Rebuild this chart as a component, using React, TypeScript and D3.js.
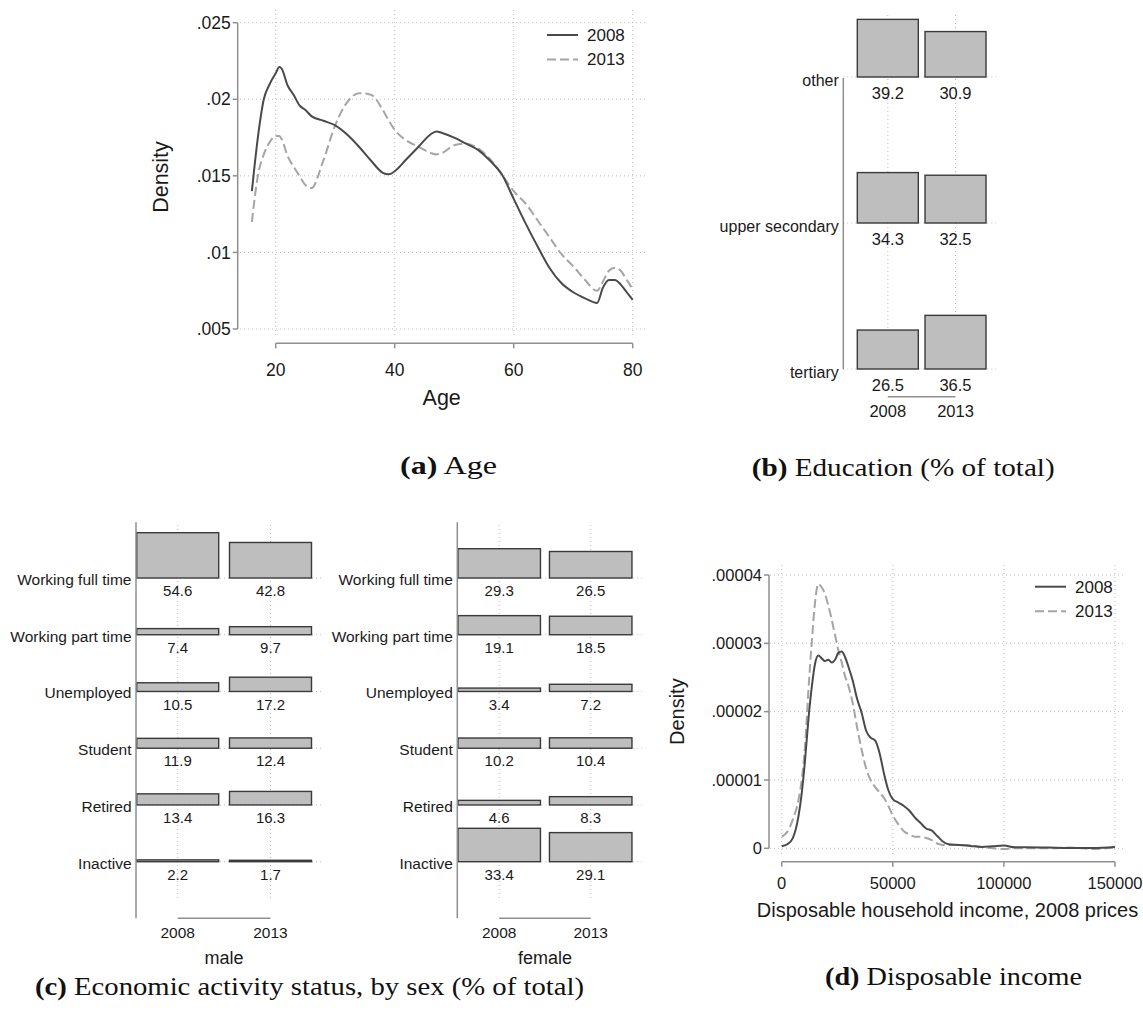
import React from 'react';
import * as d3 from 'd3';

// ---- (a) age density ----
const ageGrid = [16, 17, 18, 19, 20, 20.6, 21, 22, 23, 24, 25, 26, 28, 30, 32, 34, 36, 38, 39, 40, 42, 44, 46, 47, 48, 50, 52, 54, 56, 58, 60, 62, 64, 66, 68, 70, 72, 74, 75, 76, 77, 78, 79, 80];
const ageDensity2008 = [0.0140, 0.0175, 0.0200, 0.0210, 0.0217, 0.0221, 0.0220, 0.0209, 0.0203, 0.0196, 0.0193, 0.0189, 0.0186, 0.0183, 0.0177, 0.0169, 0.0160, 0.0152, 0.0151, 0.0153, 0.0161, 0.0169, 0.0177, 0.0179, 0.0178, 0.0175, 0.0171, 0.0167, 0.0160, 0.0151, 0.0135, 0.0119, 0.0104, 0.0090, 0.0080, 0.0074, 0.0070, 0.0067, 0.0077, 0.0082, 0.0082, 0.0079, 0.0074, 0.0069];
const ageDensity2013 = [0.0120, 0.0150, 0.0164, 0.0172, 0.0176, 0.0176, 0.0174, 0.0163, 0.0156, 0.0150, 0.0144, 0.0142, 0.0160, 0.0183, 0.0198, 0.0204, 0.0203, 0.0193, 0.0186, 0.0180, 0.0173, 0.0169, 0.0165, 0.0164, 0.0165, 0.0170, 0.0171, 0.0168, 0.0161, 0.0151, 0.0140, 0.0132, 0.0121, 0.0110, 0.0099, 0.0091, 0.0082, 0.0075, 0.0081, 0.0088, 0.0090, 0.0088, 0.0082, 0.0076];
const ageXTicks = [20, 40, 60, 80];
const ageXTickLabels = ['20', '40', '60', '80'];
const ageYTicks = [0.005, 0.01, 0.015, 0.02, 0.025];
const ageYTickLabels = ['.005', '.01', '.015', '.02', '.025'];

// ---- (d) income density ----
const incomeGrid = [0, 2500, 5000, 7500, 9000, 10500, 12000, 13500, 15000, 16500, 18000, 19500, 21000, 22500, 24000, 25500, 27000, 28500, 30000, 32000, 34000, 36000, 38000, 40000, 42000, 44000, 46000, 48000, 50000, 52500, 55000, 57500, 60000, 62500, 65000, 67500, 70000, 72500, 75000, 80000, 85000, 90000, 95000, 100000, 105000, 110000, 120000, 130000, 140000, 150000];
const incomeDensity2008 = [0.03e-5, 0.06e-5, 0.15e-5, 0.46e-5, 0.80e-5, 1.29e-5, 1.88e-5, 2.35e-5, 2.70e-5, 2.82e-5, 2.78e-5, 2.74e-5, 2.76e-5, 2.72e-5, 2.76e-5, 2.86e-5, 2.88e-5, 2.80e-5, 2.66e-5, 2.45e-5, 2.18e-5, 1.98e-5, 1.72e-5, 1.62e-5, 1.58e-5, 1.40e-5, 1.10e-5, 0.85e-5, 0.72e-5, 0.67e-5, 0.62e-5, 0.55e-5, 0.45e-5, 0.37e-5, 0.29e-5, 0.26e-5, 0.18e-5, 0.10e-5, 0.06e-5, 0.05e-5, 0.035e-5, 0.02e-5, 0.03e-5, 0.04e-5, 0.015e-5, 0.015e-5, 0.01e-5, 0.005e-5, 0.005e-5, 0.02e-5];
const incomeDensity2013 = [0.17e-5, 0.24e-5, 0.42e-5, 0.70e-5, 1.0e-5, 1.5e-5, 2.3e-5, 3.0e-5, 3.6e-5, 3.87e-5, 3.82e-5, 3.72e-5, 3.55e-5, 3.35e-5, 3.12e-5, 2.9e-5, 2.72e-5, 2.52e-5, 2.38e-5, 2.12e-5, 1.76e-5, 1.44e-5, 1.17e-5, 1.0e-5, 0.90e-5, 0.82e-5, 0.74e-5, 0.62e-5, 0.48e-5, 0.35e-5, 0.25e-5, 0.2e-5, 0.17e-5, 0.17e-5, 0.15e-5, 0.12e-5, 0.07e-5, 0.05e-5, 0.05e-5, 0.05e-5, 0.04e-5, 0.02e-5, 0, -0.01e-5, 0, 0, 0, 0.01e-5, -0.01e-5, 0.015e-5];
const incomeXTicks = [0, 50000, 100000, 150000];
const incomeXTickLabels = ['0', '50000', '100000', '150000'];
const incomeYTicks = [0, 0.00001, 0.00002, 0.00003, 0.00004];
const incomeYTickLabels = ['0', '.00001', '.00002', '.00003', '.00004'];

// ---- (b) education, (c) activity ----
const years = ['2008', '2013'];
const eduCategories = ['other', 'upper secondary', 'tertiary'];
const edu2008 = [39.2, 34.3, 26.5];
const edu2013 = [30.9, 32.5, 36.5];

const activityCategories = ['Working full time', 'Working part time', 'Unemployed', 'Student', 'Retired', 'Inactive'];
const male2008 = [54.6, 7.4, 10.5, 11.9, 13.4, 2.2];
const male2013 = [42.8, 9.7, 17.2, 12.4, 16.3, 1.7];
const female2008 = [29.3, 19.1, 3.4, 10.2, 4.6, 33.4];
const female2013 = [26.5, 18.5, 7.2, 10.4, 8.3, 29.1];

const FONT = "'Liberation Sans', Arial, Helvetica, sans-serif";
const SERIF = "'Liberation Serif', 'Times New Roman', serif";
const INK = '#1a1a1a';
const AXIS = '#8f8f8f';
const GRID = '#bdbdbd';
const C2008 = '#4a4a4a';
const C2013 = '#a5a5a5';

type Lin = d3.ScaleLinear<number, number>;

function DensityPanel(p: {
  grid: number[]; s2008: number[]; s2013: number[]; x: Lin; y: Lin;
  xTicks: number[]; xTickLabels: string[]; yTicks: number[]; yTickLabels: string[];
  xAxisY: number; yAxisX: number; gridLeft: number; gridRight: number; gridTop: number; gridBottom: number;
  xLabelOffset: number; xTitle: string; xTitleX: number; xTitleY: number; yTitleX: number; yTitleY: number;
  legendX: number; legendY: number; tickSize: number; titleSize: number; legendSize: number;
}) {
  const { x, y, grid } = p;
  const line = d3.line<number>().x((_, i) => x(grid[i])).y(d => y(d)).curve(d3.curveMonotoneX);
  const [x0, x1] = [x(p.xTicks[0]), x(p.xTicks[p.xTicks.length - 1])];
  const [y0, y1] = [y(p.yTicks[0]), y(p.yTicks[p.yTicks.length - 1])];
  return (
    <g fontFamily={FONT} fill={INK}>
      {p.yTicks.map(t => (
        <line key={`gy${t}`} x1={p.gridLeft} x2={p.gridRight} y1={y(t)} y2={y(t)} stroke={GRID} strokeDasharray="1,3" />
      ))}
      {p.xTicks.map(t => (
        <line key={`gx${t}`} x1={x(t)} x2={x(t)} y1={p.gridTop} y2={p.gridBottom} stroke={GRID} strokeDasharray="1,3" />
      ))}
      <path d={line(p.s2013) || ''} fill="none" stroke={C2013} strokeWidth={2} strokeDasharray="9,4" />
      <path d={line(p.s2008) || ''} fill="none" stroke={C2008} strokeWidth={2} />

      <line x1={p.yAxisX} x2={p.yAxisX} y1={y0} y2={y1} stroke={AXIS} strokeWidth={1.5} />
      {p.yTicks.map((t, i) => (
        <g key={`yt${t}`}>
          <line x1={p.yAxisX - 5} x2={p.yAxisX} y1={y(t)} y2={y(t)} stroke={AXIS} strokeWidth={1.5} />
          <text x={p.yAxisX - 7} y={y(t)} dy="0.35em" textAnchor="end" fontSize={p.tickSize}>{p.yTickLabels[i]}</text>
        </g>
      ))}
      <line x1={x0} x2={x1} y1={p.xAxisY} y2={p.xAxisY} stroke={AXIS} strokeWidth={1.5} />
      {p.xTicks.map((t, i) => (
        <g key={`xt${t}`}>
          <line x1={x(t)} x2={x(t)} y1={p.xAxisY} y2={p.xAxisY + 5} stroke={AXIS} strokeWidth={1.5} />
          <text x={x(t)} y={p.xAxisY + p.xLabelOffset} dy="0.35em" textAnchor="middle" fontSize={p.tickSize}>{p.xTickLabels[i]}</text>
        </g>
      ))}
      <text x={p.xTitleX} y={p.xTitleY} dy="0.35em" textAnchor="middle" fontSize={p.titleSize}>{p.xTitle}</text>
      <text transform={`translate(${p.yTitleX},${p.yTitleY}) rotate(-90)`} dy="0.35em" textAnchor="middle" fontSize={p.titleSize}>Density</text>

      {years.map((yr, i) => (
        <g key={yr} transform={`translate(${p.legendX},${p.legendY + i * 24.5})`}>
          <line x1={0} x2={31} y1={0} y2={0} stroke={i === 0 ? C2008 : C2013} strokeWidth={2} strokeDasharray={i === 0 ? undefined : '9,4'} />
          <text x={40} y={0} dy="0.35em" fontSize={p.legendSize}>{yr}</text>
        </g>
      ))}
    </g>
  );
}

function TabPanel(p: {
  cats: string[]; v2008: number[]; v2013: number[];
  catY: d3.ScalePoint<string>; yearX: d3.ScalePoint<string>; h: Lin; barW: number;
  axisX: number; axisTop: number; axisBottom: number; labelGap: number; labelDy: number; valueDy: number;
  xAxisY: number; yearLabelY: number; gridTop: number; gridBottom: number; gridRight: number;
  labelSize: number; valueSize: number; yearSize: number; group?: string; groupY?: number;
}) {
  const { catY, yearX, h } = p;
  const vals = [p.v2008, p.v2013];
  return (
    <g fontFamily={FONT} fill={INK}>
      {years.map(yr => (
        <line key={`gv${yr}`} x1={yearX(yr)} x2={yearX(yr)} y1={p.gridTop} y2={p.gridBottom} stroke={GRID} strokeDasharray="1,3" />
      ))}
      {p.cats.map(c => (
        <line key={`gh${c}`} x1={p.axisX} x2={p.gridRight} y1={catY(c)} y2={catY(c)} stroke={GRID} strokeDasharray="1,3" />
      ))}
      {p.cats.map((c, ci) => years.map((yr, yi) => {
        const base = catY(c) as number;
        const v = vals[yi][ci];
        return (
          <g key={`${c}${yr}`}>
            <rect x={(yearX(yr) as number) - p.barW / 2} y={base - h(v)} width={p.barW} height={h(v)}
              fill="#bebebe" stroke="#3a3a3a" strokeWidth={1.4} />
            <text x={yearX(yr)} y={base + p.valueDy} dy="0.35em" textAnchor="middle" fontSize={p.valueSize}>{v.toFixed(1)}</text>
          </g>
        );
      }))}
      <line x1={p.axisX} x2={p.axisX} y1={p.axisTop} y2={p.axisBottom} stroke={AXIS} strokeWidth={1.5} />
      {p.cats.map(c => (
        <text key={`l${c}`} x={p.axisX - p.labelGap} y={(catY(c) as number) + p.labelDy} dy="0.35em" textAnchor="end" fontSize={p.labelSize}>{c}</text>
      ))}
      <line x1={yearX(years[0])} x2={yearX(years[1])} y1={p.xAxisY} y2={p.xAxisY} stroke={AXIS} strokeWidth={1.5} />
      {years.map(yr => (
        <text key={`y${yr}`} x={yearX(yr)} y={p.yearLabelY} dy="0.35em" textAnchor="middle" fontSize={p.yearSize}>{yr}</text>
      ))}
      {p.group && (
        <text x={((yearX(years[0]) as number) + (yearX(years[1]) as number)) / 2} y={p.groupY} dy="0.35em" textAnchor="middle" fontSize={18}>{p.group}</text>
      )}
    </g>
  );
}

function Caption({ x, y, len, tag, text }: { x: number; y: number; len: number; tag: string; text: string }) {
  return (
    <text x={x} y={y} fontFamily={SERIF} fontSize={25} fill="#111" textLength={len} lengthAdjust="spacingAndGlyphs">
      <tspan fontWeight="bold">({tag})</tspan> {text}
    </text>
  );
}

export default function App() {
  const ageX = d3.scaleLinear().domain([20, 80]).range([275.7, 632.7]);
  const ageY = d3.scaleLinear().domain([0.005, 0.025]).range([329, 22.7]);
  const incX = d3.scaleLinear().domain([0, 150000]).range([781.7, 1115]);
  const incY = d3.scaleLinear().domain([0, 0.00004]).range([848.3, 575]);

  const eduY = d3.scalePoint<string>().domain(eduCategories).range([77, 369]);
  const eduX = d3.scalePoint<string>().domain(years).range([887.8, 955.5]);
  const eduH = d3.scaleLinear().domain([0, 10]).range([0, 14.7]);

  const actY = d3.scalePoint<string>().domain(activityCategories).range([578, 861.7]);
  const maleX = d3.scalePoint<string>().domain(years).range([177.7, 270.5]);
  const femaleX = d3.scalePoint<string>().domain(years).range([499.2, 590.7]);
  const maleH = d3.scaleLinear().domain([0, 10]).range([0, 8.3]);
  const femaleH = d3.scaleLinear().domain([0, 10]).range([0, 10]);

  return (
    <svg width={1143} height={1013} style={{ position: 'absolute', left: 0, top: 0, background: '#fff' }}>
      <DensityPanel grid={ageGrid} s2008={ageDensity2008} s2013={ageDensity2013} x={ageX} y={ageY}
        xTicks={ageXTicks} xTickLabels={ageXTickLabels} yTicks={ageYTicks} yTickLabels={ageYTickLabels}
        xAxisY={343.3} yAxisX={237.7} gridLeft={240} gridRight={647} gridTop={10} gridBottom={336}
        xLabelOffset={26.7} xTitle="Age" xTitleX={441.7} xTitleY={397} yTitleX={160} yTitleY={177}
        legendX={547} legendY={35} tickSize={17.5} titleSize={21.5} legendSize={17} />

      <TabPanel cats={eduCategories} v2008={edu2008} v2013={edu2013} catY={eduY} yearX={eduX} h={eduH} barW={61}
        axisX={843.3} axisTop={78} axisBottom={369.3} labelGap={4.5} labelDy={3} valueDy={16}
        xAxisY={396.7} yearLabelY={411.7} gridTop={15} gridBottom={369} gridRight={996}
        labelSize={16} valueSize={16.5} yearSize={16.5} />

      <TabPanel cats={activityCategories} v2008={male2008} v2013={male2013} catY={actY} yearX={maleX} h={maleH} barW={82}
        axisX={136} axisTop={522.3} axisBottom={918.3} labelGap={4.5} labelDy={1.5} valueDy={13}
        xAxisY={918.3} yearLabelY={932.7} gridTop={525} gridBottom={898} gridRight={321}
        labelSize={15.5} valueSize={15} yearSize={15.5} group="male" groupY={958} />

      <TabPanel cats={activityCategories} v2008={female2008} v2013={female2013} catY={actY} yearX={femaleX} h={femaleH} barW={82.5}
        axisX={457.3} axisTop={522.3} axisBottom={918.3} labelGap={4.5} labelDy={1.5} valueDy={13}
        xAxisY={918.3} yearLabelY={932.7} gridTop={525} gridBottom={898} gridRight={642}
        labelSize={15.5} valueSize={15} yearSize={15.5} group="female" groupY={958} />

      <DensityPanel grid={incomeGrid} s2008={incomeDensity2008} s2013={incomeDensity2013} x={incX} y={incY}
        xTicks={incomeXTicks} xTickLabels={incomeXTickLabels} yTicks={incomeYTicks} yTickLabels={incomeYTickLabels}
        xAxisY={861.7} yAxisX={769} gridLeft={770} gridRight={1125} gridTop={565} gridBottom={855}
        xLabelOffset={21.6} xTitle="Disposable household income, 2008 prices" xTitleX={947.5} xTitleY={910}
        yTitleX={676.7} yTitleY={711.7} legendX={1035} legendY={586.7} tickSize={16.5} titleSize={20} legendSize={17} />

      <Caption x={400} y={474} len={97} tag="a" text="Age" />
      <Caption x={751.7} y={476} len={303} tag="b" text="Education (% of total)" />
      <Caption x={35} y={995} len={549} tag="c" text="Economic activity status, by sex (% of total)" />
      <Caption x={825} y={985} len={257} tag="d" text="Disposable income" />
    </svg>
  );
}
